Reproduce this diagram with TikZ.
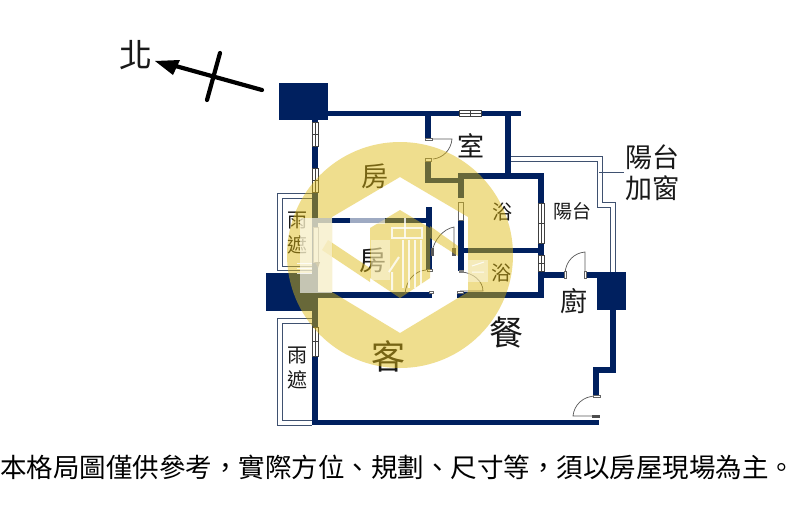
\documentclass[tikz,border=0pt]{standalone}
\usepackage{fontspec}
\setmainfont{Noto Sans CJK TC}
\definecolor{navy}{HTML}{00205F}
\definecolor{slateline}{HTML}{3F5170}
\definecolor{wmy}{HTML}{DFB90F}
\newcommand{\lbl}[4]{\node[lab,font=\fontsize{#1}{#1}\selectfont] (#2) at (#3) {#4};}
\newcommand{\winV}[3]{\fill[white,draw=black!75,line width=.7pt] (#1-3,#2) rectangle (#1+3,#3);
  \draw[black!75,line width=.5pt] (#1,#2) -- (#1,#3) (#1-3,{(#2+#3)/2}) -- (#1+3,{(#2+#3)/2});}
\newcommand{\winH}[3]{\fill[white,draw=black!75,line width=.7pt] (#2,#1-3) rectangle (#3,#1+3);
  \draw[black!75,line width=.5pt] (#2,#1) -- (#3,#1) ({(#2+#3)/2},#1-3) -- ({(#2+#3)/2},#1+3);}
\tikzset{
  x=1pt,y=-1pt,
  lab/.style={inner sep=0pt,text=black!90},
  wall/.style={draw=navy,line width=5.8pt,miter limit=10},
  pillar/.style={fill=navy},
  thinline/.style={draw=slateline,line width=.9pt},
  doorline/.style={draw=black!65,line width=.7pt},
  jamb/.style={fill=white,draw=black!60,line width=.5pt},
  arrowline/.style={draw=black,line width=4.2pt,line cap=round},
  wmfill/.style={fill=wmy,fill opacity=.47},
  wmwhite/.style={fill=white,fill opacity=.62},
  wmpale/.style={fill=white,fill opacity=.4},
  wmstroke/.style={draw=white,draw opacity=.8,line width=2pt},
}
\begin{document}
\begin{tikzpicture}
\useasboundingbox (0,0) rectangle (800,512);
\fill[white] (0,0) rectangle (800,512);
% north arrow
\draw[arrowline] (262,90) -- (172,65);
\fill[black] (155,61) -- (180,60) -- (173,75) -- cycle;
\draw[arrowline] (220,53) -- (207,100);
\lbl{33}{north}{136,55}{北}
% balcony and canopy lines
\draw[thinline] (511,156) -- (602,156) -- (602,202) -- (615,202) -- (615,272);
\draw[thinline] (511,161) -- (597,161) -- (597,207) -- (610,207) -- (610,272);
\draw[thinline] (599,172) -- (624,172);
\draw[thinline] (312,193) -- (277,193) -- (277,270) -- (312,270);
\draw[thinline] (312,198) -- (282,198) -- (282,266) -- (312,266);
\draw[thinline] (312,318) -- (277,318) -- (277,425) -- (312,425);
\draw[thinline] (312,323) -- (282,323) -- (282,420) -- (312,420);
% pillars
\fill[pillar] (279,83) rectangle (328,120);
\fill[pillar] (266,273) rectangle (318,311);
\fill[pillar] (597,272) rectangle (626,310);
% walls
\draw[wall] (328,113.5) -- (521,113.5);
\draw[wall] (315,120) -- (315,425);
\draw[wall] (312,422.5) -- (599,422.5);
\draw[wall] (428,113) -- (428,138);
\draw[wall] (428,160) -- (428,180.5) -- (461,180.5);
\draw[wall] (461,173) -- (461,198);
\draw[wall] (461,176) -- (541,176) -- (541,297);
\draw[wall] (508,113) -- (508,176);
\draw[wall] (461,220) -- (461,271);
\draw[wall] (461,250.5) -- (541,250.5);
\draw[wall] (457,295) -- (544,295);
\draw[wall] (541,275) -- (565,275);
\draw[wall] (585,275) -- (597,275);
\draw[wall] (613,310) -- (613,370) -- (596,370) -- (596,396);
\draw[wall] (315,220.5) -- (429,220.5);
\draw[wall] (429,207) -- (429,270);
\draw[wall] (302,295) -- (432,295);
% windows
\winV{315}{122}{146}
\winV{315}{168}{192}
\winV{315}{327}{356}
\winH{113.5}{459}{481}
\winV{541}{203}{243}
\winV{541}{255}{271}
\fill[white,draw=black!60,line width=.6pt] (458.5,202) rectangle (463,220);
\fill[white,draw=black!50,line width=.5pt] (313,227) rectangle (318,262);
\fill[black!70] (315,262) -- (320,262) -- (318,268) -- cycle;
% doors
\draw[doorline] (426,139) -- (452,139) .. controls (451,150) and (443,158) .. (433,159);
\draw[doorline] (454,253) -- (454,227) .. controls (443,229) and (434,240) .. (432,252);
\draw[doorline] (460,291) -- (483,291) .. controls (483,281) and (473,273) .. (462,272);
\draw[doorline] (426,270) .. controls (414,271) and (406,281) .. (405,294);
\draw[doorline] (565,273) .. controls (566,261) and (574,253) .. (585,252) -- (585,275);
\draw[doorline] (596,396) .. controls (583,396) and (574,405) .. (573,416) -- (597,416);
\fill[jamb] (425,138) rectangle (432,140.5);
\fill[jamb] (425,158.5) rectangle (431.5,161);
\fill[jamb] (564,271) rectangle (566.5,278);
\fill[jamb] (584,271) rectangle (586.5,278);
\fill[jamb] (593,395) rectangle (600,397);
\fill[black!70] (592,415) rectangle (600,418);
\fill[black!65] (431,248) rectangle (434,256);
\fill[black!65] (452,248) rectangle (456,256);
\fill[jamb] (427,269) rectangle (432,271.5);
\fill[jamb] (429,291) rectangle (433,293);
\fill[jamb] (457,291) rectangle (463,293);
\fill[black!50] (459,270) rectangle (464,273);
% labels
\lbl{27}{bal1}{652,157}{陽台}
\lbl{27}{bal2}{652,188}{加窗}
\lbl{27}{room1}{471,146}{室}
\lbl{27}{room2}{375,176}{房}
\lbl{27}{room3}{373,260}{房}
\lbl{20}{rainA}{297,221}{雨}
\lbl{20}{shadeA}{297,245}{遮}
\lbl{20}{rainB}{297,356}{雨}
\lbl{20}{shadeB}{297,380}{遮}
\lbl{20}{bath1}{502,212}{浴}
\lbl{20}{bath2}{501,273}{浴}
\lbl{19}{bal3}{572,211}{陽台}
\lbl{27}{kitchen}{574,301}{廚}
\lbl{34}{dining}{506,333}{餐}
\lbl{34}{living}{388,356}{客}
\node[lab,text=black,anchor=west,font=\fontsize{26.5}{26.5}\selectfont] (note) at (0,467) {本格局圖僅供參考，實際方位、規劃、尺寸等，須以房屋現場為主。};
% watermark
\fill[wmfill,even odd rule] (400,255) circle (113)
  (400,177) -- (468,217) -- (468,292) -- (400,333) -- (332,292) -- (332,217) -- cycle;
\fill[wmfill] (400,210) -- (430,228) -- (430,278) -- (400,298) -- (370,278) -- (370,228) -- cycle;
\fill[wmfill] (328,240) -- (370,268) -- (370,282) -- (322,250) -- cycle;
\fill[wmfill] (430,226) -- (458,246) -- (458,256) -- (430,238) -- cycle;
\fill[wmwhite] (300,218) rectangle (332,293);
\fill[wmwhite] (350,218) rectangle (385,223.5);
\fill[wmpale] (371,240) rectangle (390,280);
\fill[wmpale] (468,260) rectangle (488,282);
\draw[wmstroke] (392,228) rectangle (422,238);
\draw[wmstroke] (405,218) -- (405,238);
\draw[wmstroke] (403,240) -- (403,288) (409,240) -- (409,288) (415,240) -- (415,288) (421,240) -- (421,288);
\draw[wmstroke] (389,272) -- (399,257) (392,272) -- (392,290);
\draw[wmstroke,line width=1pt] (472,266) -- (484,262) (472,272) -- (484,272);
\draw[wmstroke,line width=1pt] (297,263) -- (312,263) (297,268) -- (312,268) (297,273) -- (312,273);
\end{tikzpicture}
\end{document}
